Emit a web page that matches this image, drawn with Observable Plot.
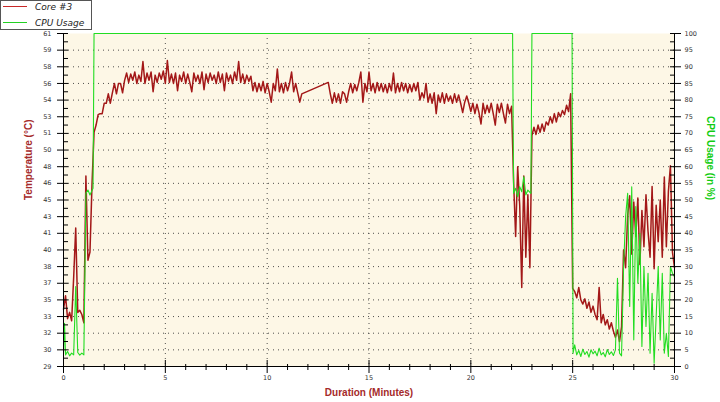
<!DOCTYPE html>
<html>
<head>
<meta charset="utf-8">
<script src="https://cdn.jsdelivr.net/npm/d3@7"></script>
<script src="https://cdn.jsdelivr.net/npm/@observablehq/plot@0.6"></script>
<style>
  html, body { margin: 0; padding: 0; background: #fff; }
  #wrap { position: relative; width: 720px; height: 402px; overflow: hidden; }
  #legend { position: absolute; left: 0; top: 0; }
</style>
</head>
<body>
<div id="wrap">
  <svg id="legend" width="93" height="31" xmlns="http://www.w3.org/2000/svg"></svg>
</div>
<script>
// ---------------- data ----------------
const seriesNames = ["Core #3", "CPU Usage"];
const seriesColors = ["#a31818", "#22dd22"];
const legendColors = ["#c82828", "#22d022"];

// Core #3 temperature (°C), sampled every 0.1 minute starting at 0 (null = no sample)
const tempStartMinute = 0;
const tempStepMinutes = 0.1;
const core3Temp = [
  34.5, 35.8, 33.6, 34.2, 33.4, 37.6, 42.3, 34.2, 34.4, 34.0, 33.2,
  47.3, 39.2, 40.0, 46.5,
  51.5, 52.2, 53.2, 53.3, 53.3, 54.3, 54.3, 55.2, 54.3, 55.3, 56.2, 55.2, 56.2, 56.2, 55.3, 56.5,
  57.2, 56.3, 57.1, 56.5, 57.3, 56.2, 57.0, 56.4, 58.3, 56.2,
  57.2, 56.5, 57.3, 55.4, 57.0, 56.3, 57.2, 56.6, 57.4, 56.2,
  58.4, 56.3, 57.1, 56.2, 57.2, 55.5, 57.0, 56.4, 57.3, 56.2,
  57.1, 56.3, 55.4, 57.2, 56.4, 57.0, 56.2, 57.3, 55.6, 57.1,
  56.3, 57.2, 56.5, 57.0, 56.2, 57.3, 56.3, 57.1, 55.5, 57.2,
  56.4, 57.0, 56.2, 57.3, 56.5, 58.3, 56.3, 57.1, 56.2, 57.0,
  56.4, 56.9,
  55.5, 56.3, 55.4, 56.2, 55.5, 56.4, 55.3, 56.2,
  55.4, 54.4, 56.2, 55.5, 57.6, 55.4, 56.2, 55.3, 56.3, 55.5,
  56.2, 57.3, 55.4, 56.2, 55.3, 54.4, 55.2,
  null, null, null, null, null, null, null, null, null, null, null, null,
  56.3,
  55.2, 54.3, 55.3, 54.4, 55.2, 54.3, 55.4, 55.2, 54.4,
  55.4, 56.2, 55.3, 56.1, 55.5, 56.3, 57.3, 54.4, 56.2, 55.4,
  57.3, 55.5, 56.2, 55.3, 56.3, 55.5, 56.2, 55.4, 56.1, 55.3,
  56.2, 55.5, 57.2, 55.3, 56.2, 55.4, 56.3, 55.5, 56.2, 55.3,
  56.1, 55.4, 56.2, 55.5, 56.3, 54.6, 55.3, 54.8,
  56.2, 54.4, 55.2, 54.3, 55.3, 53.3, 55.1, 54.4, 55.3, 54.3, 55.2, 54.5, 55.0,
  54.3, 55.2, 54.4, 55.1, 54.3, 53.4, 54.4, 55.0, 54.3, 53.5,
  54.3, 53.3, 54.2, 53.4, 52.3, 54.3, 53.3, 54.1, 53.4, 54.3,
  53.3, 52.2, 54.2, 53.4, 54.3, 53.3, 52.4, 54.2, 53.3, 54.0,
  46.8, 41.5, 48.2, 44.5, 36.6, 47.3, 39.5, 45.5, 38.5,
  51.2, 52.0, 51.3, 52.2, 51.5, 52.3, 51.6, 52.5, 52.2, 53.0, 52.4,
  53.3, 52.5, 53.4, 53.0, 53.6, 53.2, 54.1, 53.5, 55.2,
  36.5,
  36.2, 35.6, 36.6, 35.4, 35.0, 35.5, 34.6, 35.2, 34.2, 34.8,
  34.0, 33.5, 36.6, 33.2, 34.0, 33.0, 33.5, 32.6, 33.2, 32.4,
  31.8, 32.5, 31.4, 32.8,
  40.2, 38.5, 43.5, 45.4, 39.8, 44.8, 41.5, 45.2, 38.8, 44.0, 40.5, 45.5, 42.0,
  39.5, 46.3, 38.4, 44.5, 41.0, 45.0, 39.5, 47.2, 40.5, 45.8, 48.3, 40.0, 38.5
];

// CPU usage (%), explicit sample times in minutes
const cpuMinutes = [
  0, 0.05, 0.1, 0.2, 0.3, 0.4, 0.5, 0.6, 0.7, 0.8, 0.9, 1.0,
  1.1, 1.2, 1.3, 1.45, 1.5, 22.05,
  22.1, 22.2, 22.3, 22.4, 22.5, 22.6, 22.7, 22.8, 22.95, 23.0, 24.97, 25.02,
  25.1, 25.2, 25.3, 25.4, 25.5, 25.6, 25.7, 25.8, 25.9, 26.0,
  26.1, 26.2, 26.3, 26.4, 26.5, 26.6, 26.7, 26.8, 26.9, 27.0,
  27.1, 27.2, 27.3, 27.4,
  27.5, 27.6, 27.7, 27.8, 27.9, 28.0, 28.1, 28.2, 28.3, 28.4,
  28.5, 28.6, 28.7, 28.8, 28.9, 29.0, 29.1, 29.2, 29.3, 29.4,
  29.5, 29.6, 29.7, 29.8, 29.9, 30.0
];
const cpuPercent = [
  4, 13, 3.5, 4.5, 3.2, 4.0, 3.5, 24, 4.2, 3.4, 4.0, 3.5,
  52, 53, 51.5, 53.5, 100, 100,
  52, 53.5, 51, 54, 52.5, 57, 51.5, 53, 52, 100, 100, 4,
  6.5, 3.5, 4.8, 3.0, 5.2, 3.6, 4.5, 2.8, 5.0, 3.8,
  4.6, 3.2, 5.5, 3.5, 4.2, 2.9, 5.1, 3.6, 4.4, 3.3,
  5.0, 26.5, 4.0, 3.2,
  30, 45, 52, 18, 54, 8, 48, 25, 40, 6,
  30, 12, 28, 4, 22, 1, 15, 30, 8, 28,
  4, 10, 3, 30, 28, 27
];

// axes
const xMajorTicks = [0, 5, 10, 15, 20, 25, 30];
const xMinorTicks = [1, 2, 3, 4, 6, 7, 8, 9, 11, 12, 13, 14, 16, 17, 18, 19, 21, 22, 23, 24, 26, 27, 28, 29];
const cpuTicks = [0, 5, 10, 15, 20, 25, 30, 35, 40, 45, 50, 55, 60, 65, 70, 75, 80, 85, 90, 95, 100];
const tempTickLabels = [29, 30, 32, 33, 35, 37, 38, 40, 41, 43, 45, 46, 48, 50, 51, 53, 54, 56, 58, 59, 61];
const minorYTicks = [2.5, 7.5, 12.5, 17.5, 22.5, 27.5, 32.5, 37.5, 42.5, 47.5, 52.5, 57.5, 62.5, 67.5, 72.5, 77.5, 82.5, 87.5, 92.5, 97.5];

const titles = { left: "Temperature (°C)", right: "CPU Usage (in %)", bottom: "Duration (Minutes)" };

// ---------------- build ----------------
const tMin = tempTickLabels[0], tMax = tempTickLabels[tempTickLabels.length - 1];
const tempRows = core3Temp
  .map((v, i) => ({ t: tempStartMinute + i * tempStepMinutes, v }))
  .filter(d => d.v != null)
  .map(d => ({ t: d.t, p: (d.v - tMin) / (tMax - tMin) * 100 }));
const cpuRows = cpuMinutes.map((t, i) => ({ t, v: cpuPercent[i] }));

const tickFont = { fontFamily: "DejaVu Sans, sans-serif", fontSize: 6.5, fill: "#333" };

const chart = Plot.plot({
  width: 720, height: 402,
  marginLeft: 63, marginRight: 46, marginTop: 33, marginBottom: 36,
  x: { domain: [0, 30], axis: null, label: null },
  y: { domain: [0, 100], axis: null, label: null },
  style: { background: "transparent", fontFamily: "DejaVu Sans, sans-serif", overflow: "visible" },
  marks: [
    Plot.frame({ fill: "#fdf7e6", stroke: null }),
    Plot.gridY(cpuTicks.slice(1, -1), { stroke: "#333", strokeOpacity: 0.85, strokeDasharray: "1,4" }),
    Plot.gridX([5, 10, 15, 20, 25], { stroke: "#333", strokeOpacity: 0.85, strokeDasharray: "1,4" }),
    Plot.line(tempRows, { x: "t", y: "p", stroke: seriesColors[0], strokeWidth: 1.5 }),
    Plot.line(cpuRows, { x: "t", y: "v", stroke: seriesColors[1], strokeWidth: 1.1 }),
    Plot.ruleX([0], { stroke: "#000" }),
    Plot.ruleX([30], { stroke: "#000" }),
    Plot.ruleY([0], { stroke: "#000" }),
    // left ticks
    Plot.axisY(cpuTicks, { anchor: "left", tickSize: 11, dx: 5, fill: "none", stroke: "#000", label: null }),
    Plot.axisY(minorYTicks, { anchor: "left", tickSize: 5, dx: 5, fill: "none", stroke: "#000", label: null }),
    Plot.axisY(cpuTicks, { anchor: "left", tickSize: 0, tickPadding: 12, label: null, ...tickFont,
      tickFormat: d => String(tempTickLabels[cpuTicks.indexOf(d)]) }),
    // right ticks
    Plot.axisY(cpuTicks, { anchor: "right", tickSize: 11, dx: -5, fill: "none", stroke: "#000", label: null }),
    Plot.axisY(minorYTicks, { anchor: "right", tickSize: 5, dx: -5, fill: "none", stroke: "#000", label: null }),
    Plot.axisY(cpuTicks, { anchor: "right", tickSize: 0, tickPadding: 10, label: null, ...tickFont,
      tickFormat: d => String(d) }),
    // bottom ticks
    Plot.axisX(xMajorTicks, { anchor: "bottom", tickSize: 13, dy: -6, fill: "none", stroke: "#000", label: null }),
    Plot.axisX(xMinorTicks, { anchor: "bottom", tickSize: 6, dy: -2, fill: "none", stroke: "#000", label: null }),
    Plot.axisX(xMajorTicks, { anchor: "bottom", tickSize: 0, tickPadding: 9, label: null, ...tickFont,
      tickFormat: d => String(d) }),
    // titles
    Plot.text([titles.left], { frameAnchor: "left", dx: -35, rotate: -90, fill: "#a52a2a",
      fontWeight: "bold", fontSize: 10, fontFamily: "Liberation Sans, Arial, sans-serif" }),
    Plot.text([titles.right], { frameAnchor: "right", dx: 36, rotate: 90, fill: "#11cc11",
      fontWeight: "bold", fontSize: 10, fontFamily: "Liberation Sans, Arial, sans-serif" }),
    Plot.text([titles.bottom], { frameAnchor: "bottom", dy: 29, fill: "#a52a2a",
      fontWeight: "bold", fontSize: 10, fontFamily: "Liberation Sans, Arial, sans-serif" })
  ]
});

const wrap = document.getElementById("wrap");
wrap.insertBefore(chart, wrap.firstChild);

// legend (inline SVG)
const svgNS = "http://www.w3.org/2000/svg";
const lg = document.getElementById("legend");
const box = document.createElementNS(svgNS, "rect");
box.setAttribute("x", "0.5"); box.setAttribute("y", "0.5");
box.setAttribute("width", "91"); box.setAttribute("height", "29");
box.setAttribute("fill", "#fff"); box.setAttribute("stroke", "#555");
lg.appendChild(box);
seriesNames.forEach((name, i) => {
  const yy = i === 0 ? 6.5 : 22.5;
  const ln = document.createElementNS(svgNS, "line");
  ln.setAttribute("x1", "3"); ln.setAttribute("x2", "27");
  ln.setAttribute("y1", yy); ln.setAttribute("y2", yy);
  ln.setAttribute("stroke", legendColors[i]);
  ln.setAttribute("stroke-width", "1");
  lg.appendChild(ln);
  const tx = document.createElementNS(svgNS, "text");
  tx.setAttribute("x", "35"); tx.setAttribute("y", yy + 3);
  tx.setAttribute("font-family", "DejaVu Sans, sans-serif");
  tx.setAttribute("font-style", "italic");
  tx.setAttribute("font-size", "9");
  tx.setAttribute("fill", "#222");
  tx.textContent = name;
  lg.appendChild(tx);
});
</script>
</body>
</html>
